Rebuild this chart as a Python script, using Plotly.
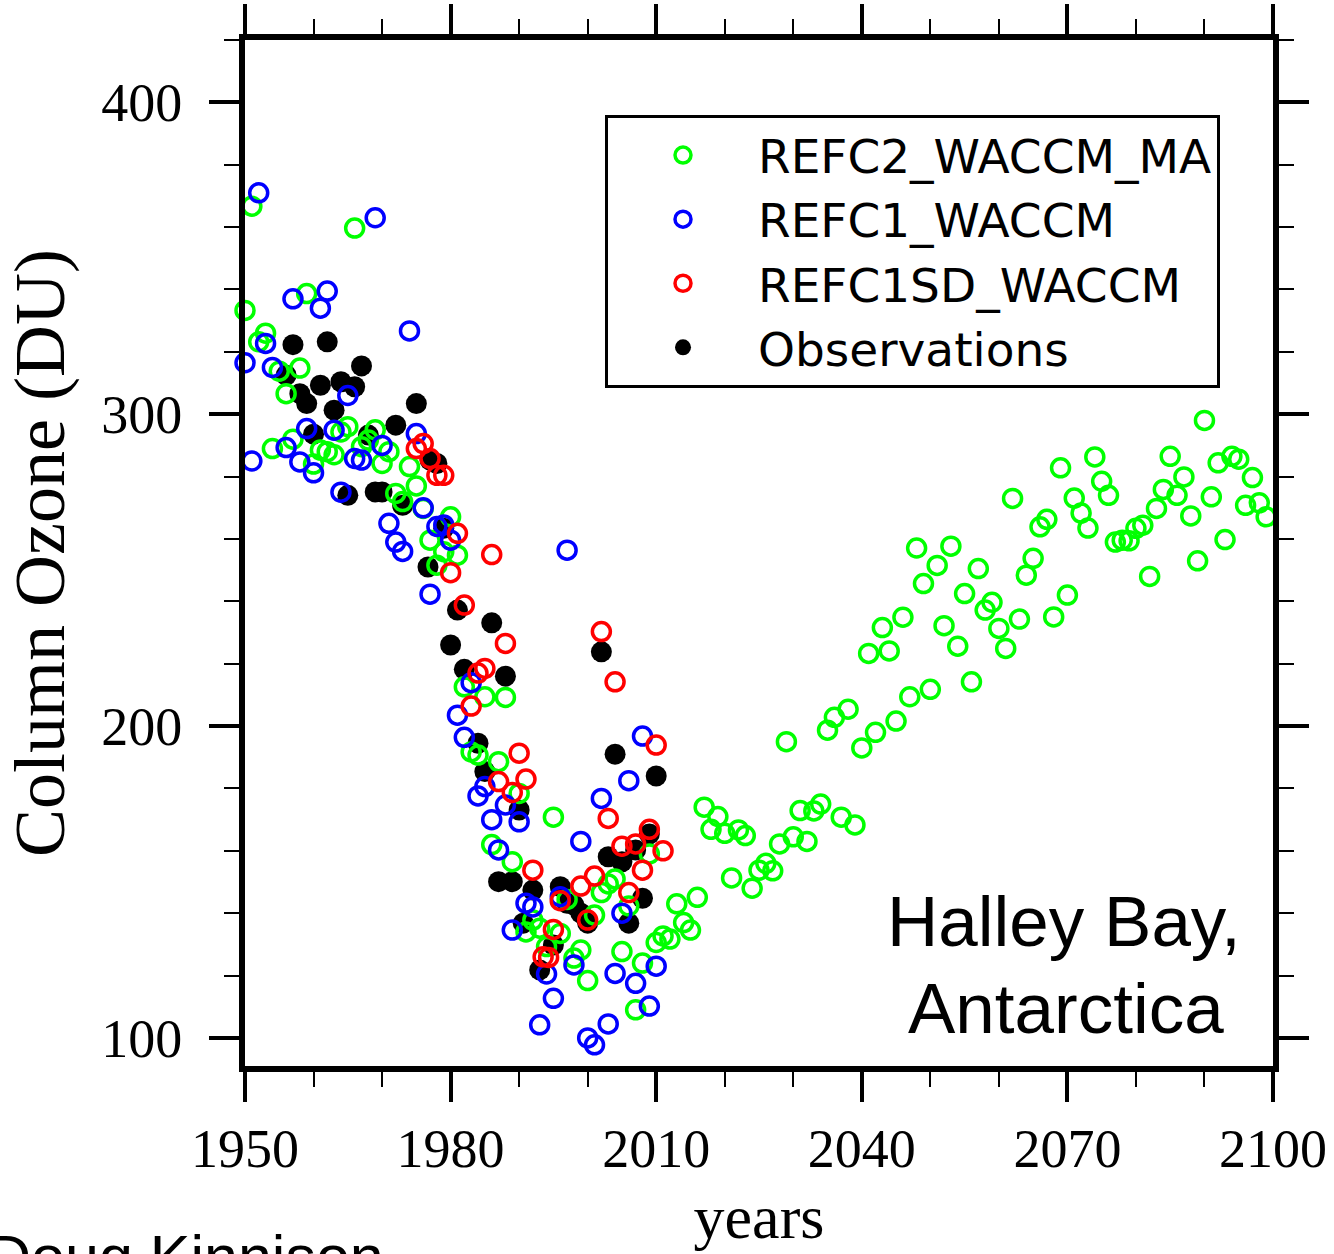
import plotly.graph_objects as go

# Halley Bay October column ozone: model runs and observations
refc2_years = list(range(1950, 2100))
refc2_du = [
    333.3, 366.7, 323.2, 326.0, 289.0, 313.8, 306.6, 292.0, 314.8, 338.7,
    284.0, 288.5, 288.0, 287.0, 294.3, 296.0, 359.7, 289.6, 291.7, 295.0,
    284.2, 288.0, 274.6, 272.0, 283.2, 277.0, 269.8, 259.6, 251.6, 255.9,
    267.1, 254.8, 212.6, 191.7, 190.7, 209.4, 162.0, 188.6, 209.2, 156.5,
    178.4, 134.0, 137.8, 135.2, 129.3, 170.8, 133.5, 144.4, 125.6, 128.2,
    118.4, 139.4, 146.6, 149.4, 151.0, 127.7, 142.3, 109.0, 124.0, 159.0,
    130.6, 132.7, 131.7, 143.0, 137.0, 134.6, 145.1, 174.0, 166.9, 171.0,
    165.6, 151.3, 166.7, 164.9, 148.0, 153.8, 156.0, 153.6, 162.2, 195.0,
    164.5, 172.9, 163.0, 172.8, 175.0, 198.7, 202.8, 170.8, 205.4, 168.3,
    193.0, 223.3, 198.0, 231.6, 224.1, 201.6, 234.9, 209.4, 257.1, 245.7,
    211.8, 251.5, 232.2, 257.7, 225.6, 242.5, 214.2, 250.5, 237.2, 239.7,
    231.3, 224.9, 273.0, 234.3, 248.4, 253.8, 263.9, 266.3, 235.0, 282.8,
    242.0, 273.1, 268.3, 263.5, 286.3, 278.5, 274.0, 259.0, 259.6, 259.4,
    263.4, 264.4, 248.0, 269.8, 275.9, 286.5, 274.0, 279.9, 267.4, 253.0,
    298.0, 273.5, 284.4, 259.8, 286.5, 285.6, 270.8, 279.7, 271.6, 267.1,
]

refc1_years = [
    1950, 1951, 1952, 1953, 1954, 1956, 1957, 1958, 1959, 1960,
    1961, 1962, 1963, 1964, 1965, 1966, 1967, 1969, 1970, 1971,
    1972, 1973, 1974, 1975, 1976, 1977, 1978, 1979, 1980, 1981,
    1982, 1983, 1984, 1985, 1986, 1987, 1988, 1989, 1990, 1991,
    1992, 1993, 1994, 1995, 1996, 1997, 1998, 1999, 2000, 2001,
    2002, 2003, 2004, 2005, 2006, 2007, 2008, 2009, 2010,
]
refc1_du = [
    316.5, 285.0, 371.0, 322.7, 315.0, 289.3, 337.0, 284.7, 295.4, 281.2,
    334.0, 339.5, 294.9, 275.0, 306.0, 285.8, 285.3, 363.0, 290.0, 265.0,
    259.0, 256.0, 326.7, 293.8, 270.0, 242.3, 264.0, 264.5, 259.6, 203.5,
    196.4, 213.9, 177.6, 180.6, 170.0, 160.3, 174.7, 134.6, 169.3, 143.2,
    142.0, 104.2, 120.5, 112.7, 145.3, 256.4, 123.4, 163.0, 100.0, 97.8,
    176.8, 104.5, 120.7, 140.0, 182.5, 117.5, 196.8, 110.2, 123.0,
]

refc1sd_years = [
    1975, 1976, 1977, 1978, 1979, 1980, 1981, 1982, 1983, 1984,
    1985, 1986, 1987, 1988, 1989, 1990, 1991, 1992, 1993.5, 1994.3,
    1995, 1996, 1999, 2000, 2001, 2002, 2003, 2004, 2005, 2006,
    2007, 2008, 2009, 2010, 2011,
]
refc1sd_du = [
    289.0, 290.6, 285.8, 280.4, 280.4, 249.2, 261.8, 238.8, 206.4, 217.0,
    218.5, 255.0, 182.2, 226.5, 178.7, 191.3, 183.0, 153.8, 126.0, 125.8,
    134.8, 144.0, 148.7, 137.8, 151.9, 230.3, 170.4, 214.2, 161.5, 146.6,
    162.2, 153.8, 166.9, 193.9, 160.0,
]

obs_years = [
    1956, 1957, 1958, 1959, 1960, 1961, 1962, 1963, 1964, 1965,
    1966, 1967, 1968, 1969, 1970, 1972, 1973, 1975, 1976.7, 1977,
    1978, 1979, 1980, 1981, 1982, 1984, 1985, 1986, 1987, 1988,
    1989, 1990, 1990.6, 1992, 1993, 1995, 1996, 1997, 1998, 1999,
    2000, 2002, 2003, 2004, 2005, 2006, 2007, 2008, 2009, 2010,
]
obs_du = [
    312.5, 322.3, 306.6, 303.4, 293.6, 309.3, 323.2, 301.3, 310.4, 274.0,
    308.8, 315.5, 293.3, 275.1, 275.1, 296.5, 270.8, 303.4, 251.0, 285.3,
    284.2, 263.4, 226.0, 237.2, 218.2, 194.5, 185.4, 233.1, 150.1, 216.0,
    150.1, 173.1, 136.8, 147.4, 121.8, 129.8, 148.5, 143.2, 142.6, 140.0,
    136.8, 223.8, 158.1, 191.0, 156.5, 136.8, 160.3, 144.8, 165.4, 184.0,
]

x_ticks = [1950, 1980, 2010, 2040, 2070, 2100]
y_ticks = [100, 200, 300, 400]

SERIF = "Liberation Serif, Times New Roman, serif"
SANS = "Liberation Sans, Arial, sans-serif"

fig = go.Figure()

fig.add_trace(go.Scatter(
    x=obs_years, y=obs_du, mode="markers", name="Observations",
    legendrank=4, cliponaxis=False,
    marker=dict(symbol="circle", size=21, color="black", line=dict(width=0)),
))


def open_circles(xs, ys, name, color, rank):
    return go.Scatter(
        x=xs, y=ys, mode="markers", name=name, legendrank=rank,
        cliponaxis=False,
        marker=dict(symbol="circle-open", size=18, color=color,
                    line=dict(width=3.5, color=color)),
    )


fig.add_trace(open_circles(refc2_years, refc2_du, "REFC2_WACCM_MA", "#00ff00", 1))
fig.add_trace(open_circles(refc1_years, refc1_du, "REFC1_WACCM", "#0000ff", 2))
fig.add_trace(open_circles(refc1sd_years, refc1sd_du, "REFC1SD_WACCM", "#ff0000", 3))

axis_common = dict(
    showline=True, linewidth=6, linecolor="black", mirror="allticks",
    ticks="outside", tickcolor="black", tickwidth=4, ticklen=30,
    showgrid=False, zeroline=False, automargin=False,
    tickfont=dict(family=SERIF, size=54, color="black"),
)

fig.update_xaxes(
    range=[1950, 2100], tickvals=x_ticks, ticktext=[str(v) for v in x_ticks],
    minor=dict(dtick=10, tick0=1950, ticks="outside", ticklen=15,
               tickwidth=2, tickcolor="black", showgrid=False),
    ticklabelstandoff=0,
    title=dict(text="years", font=dict(family=SERIF, size=62, color="black"),
               standoff=19),
    **axis_common,
)
fig.update_yaxes(
    range=[91, 420], tickvals=y_ticks, ticktext=[str(v) for v in y_ticks],
    minor=dict(dtick=20, tick0=100, ticks="outside", ticklen=15,
               tickwidth=2, tickcolor="black", showgrid=False),
    ticklabelstandoff=16,
    title=dict(text="Column Ozone (DU)",
               font=dict(family=SERIF, size=72, color="black"), standoff=22),
    **axis_common,
)

fig.update_layout(
    width=1334, height=1254,
    margin=dict(l=245, r=61, t=40, b=188, pad=0, autoexpand=False),
    paper_bgcolor="white", plot_bgcolor="white",
    showlegend=True,
    legend=dict(
        x=0.3502, y=0.9269, xanchor="left", yanchor="top",
        bgcolor="white", bordercolor="black", borderwidth=3,
        font=dict(family="DejaVu Sans, sans-serif", size=47, color="black"),
        itemwidth=140, tracegroupgap=0,
    ),
    annotations=[
        dict(text="Halley Bay,", x=0.797, y=0.1404, xref="paper", yref="paper",
             xanchor="center", yanchor="middle", showarrow=False,
             font=dict(family=SANS, size=71, color="black")),
        dict(text="Antarctica", x=0.799, y=0.0556, xref="paper", yref="paper",
             xanchor="center", yanchor="middle", showarrow=False,
             font=dict(family=SANS, size=71, color="black")),
        dict(text="Doug Kinnison", x=-0.2529, y=-0.151, xref="paper", yref="paper",
             xanchor="left", yanchor="top", showarrow=False,
             font=dict(family=SANS, size=61, color="black")),
    ],
)

fig.write_html("out.html")
